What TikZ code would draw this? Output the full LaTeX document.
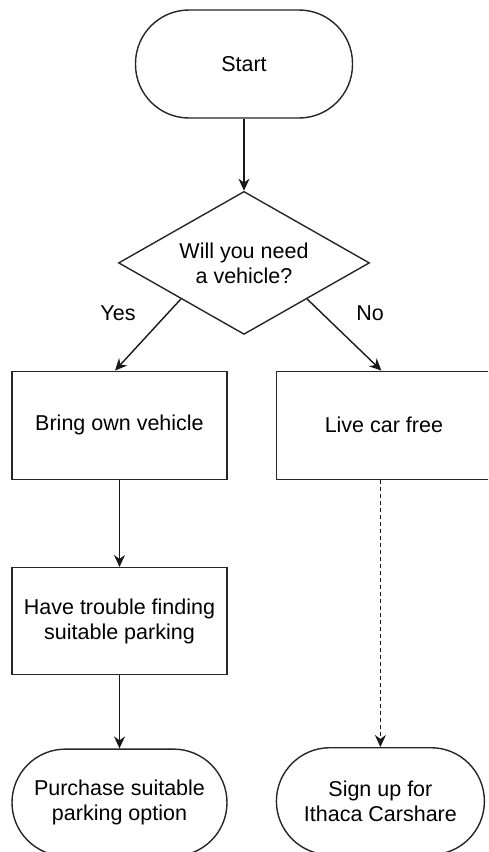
\documentclass[tikz,border=0pt]{standalone}
\usepackage{fontspec}
\setmainfont{Liberation Sans}
\usepackage{tikz}
\usetikzlibrary{positioning, arrows.meta, shapes.geometric}

\begin{document}
\begin{tikzpicture}[
    font=\fontsize{21.5}{25}\selectfont,
    terminal/.style={
        rectangle, rounded corners=53.5pt,
        draw=black!85, line width=1.4pt,
        minimum width=217pt, minimum height=107pt,
        align=center, inner sep=0pt
    },
    process/.style={
        rectangle,
        draw=black!85, line width=1.4pt,
        minimum width=215pt, minimum height=108pt,
        align=center, inner sep=0pt
    },
    decision/.style={
        diamond, aspect=1.755,
        draw=black!85, line width=1.4pt,
        minimum width=251pt, minimum height=143pt,
        align=center, inner sep=0pt
    },
    tag/.style={inner sep=0pt},
    arrow/.style={-{Stealth[length=12pt, width=11pt]}, line width=1.4pt, draw=black!90}
]

\useasboundingbox (0,0) rectangle (488pt,-852pt);
\clip (0,0) rectangle (488pt,-852pt);

% Top: start and the question
\node[terminal, minimum height=108pt] (start) at (244pt,-64pt) {Start};
\node[decision, below=72pt of start] (question) {Will you need\\a vehicle?};

% Left column: bring a vehicle
\node[process, below=35.5pt of question, xshift=-124.5pt] (bring) {Bring own vehicle};
\node[process, minimum height=107pt, below=87pt of bring] (trouble) {Have trouble finding\\suitable parking};
\node[terminal, minimum width=215pt, below=73pt of trouble] (purchase) {Purchase suitable\\parking option};

% Right column: no vehicle
\node[process, right=48pt of bring] (carfree) {Live car free};
\node[terminal, minimum width=208pt, below=267pt of carfree, xshift=-3.5pt] (carshare) {Sign up for\\Ithaca Carshare};

% Branch labels
\node[tag] (yes) at (118pt,-313pt) {Yes};
\node[tag] (no) at (370pt,-313pt) {No};

% Arrows
\draw[arrow] (start) -- (question);
\draw[arrow] (question.south west) -- ([xshift=-4.5pt]bring.north);
\draw[arrow] (question.south east) -- ([xshift=-2.5pt]carfree.north);
\draw[arrow] (bring) -- (trouble);
\draw[arrow] (trouble) -- (trouble.south |- purchase.north);
\draw[arrow, dash pattern=on 4pt off 3pt] (carfree.south -| carshare.north) -- (carshare.north);

\end{tikzpicture}
\end{document}
